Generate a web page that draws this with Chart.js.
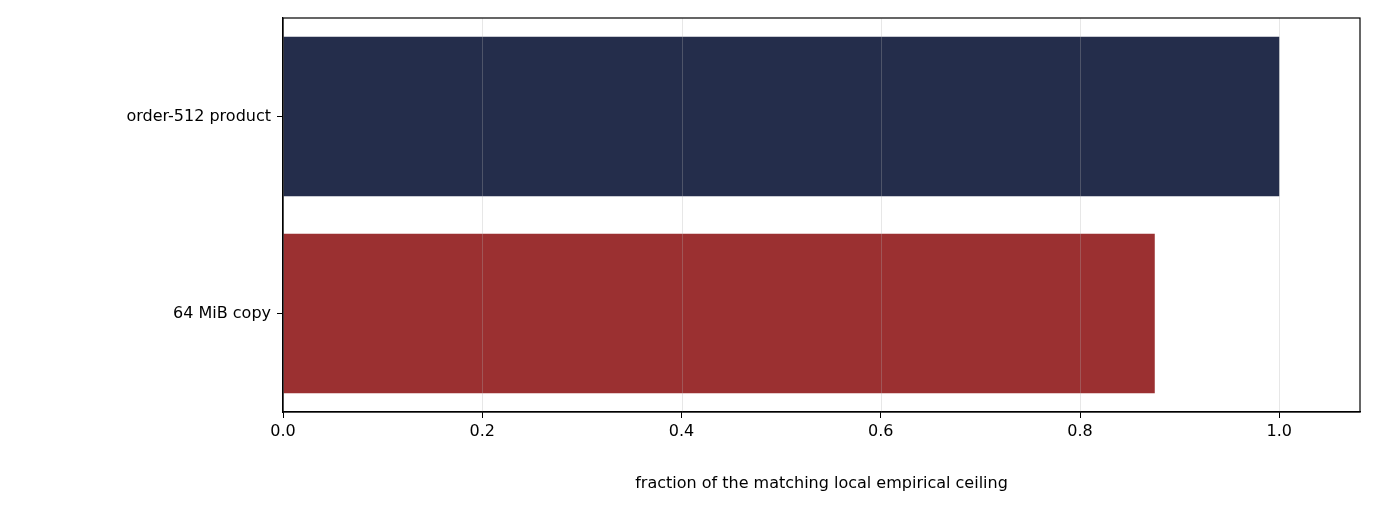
<!DOCTYPE html>
<html><head><meta charset="utf-8">
<script src="https://cdn.jsdelivr.net/npm/chart.js@4"></script>
<style>html,body{margin:0;padding:0;background:#fff}#c{width:1379px;height:517px}</style>
</head><body><div id="c"><canvas id="cv"></canvas></div>
<script>
const categories = ["order-512 product", "64 MiB copy"];
const values = [1.0, 0.875];
const colors = ["#242d4b", "#9b3031"];
const xTicks = [0, 0.2, 0.4, 0.6, 0.8, 1.0];
const xLabel = "fraction of the matching local empirical ceiling";

const frame = {id:'frame',
  afterDatasetsDraw(c){const a=c.chartArea,x=c.ctx,s=c.scales.x;x.save();x.strokeStyle='rgba(176,176,176,0.3)';x.lineWidth=1;
    xTicks.forEach(v=>{const p=Math.round(s.getPixelForValue(v))+0.5;x.beginPath();x.moveTo(p,a.top);x.lineTo(p,a.bottom);x.stroke();});x.restore();},
  afterDraw(c){const a=c.chartArea,x=c.ctx;x.save();x.strokeStyle='#000';x.lineWidth=1.2;x.strokeRect(a.left,a.top,a.right-a.left,a.bottom-a.top);x.restore();}};
new Chart(document.getElementById('cv'), {
  type:'bar',
  data:{labels:categories, datasets:[{data:values, backgroundColor:colors, barPercentage:0.81, categoryPercentage:1}]},
  options:{
    indexAxis:'y', responsive:true, maintainAspectRatio:false, animation:false,
    layout:{padding:{top:18,right:19,left:0,bottom:0}},
    plugins:{legend:{display:false}, tooltip:{enabled:false}},
    scales:{
      x:{min:0,max:1.081,
        afterBuildTicks(s){s.ticks=xTicks.map(v=>({value:v}));},
        afterFit(s){s.height=105;},
        ticks:{color:'#000',font:{family:'DejaVu Sans',size:16},padding:4,callback:v=>v.toFixed(1)},
        grid:{drawOnChartArea:false,tickColor:'#000',tickLength:6,drawTicks:true},
        border:{color:'#000',width:1.2},
        title:{display:true,text:xLabel,color:'#000',font:{family:'DejaVu Sans',size:16},padding:{top:6,bottom:24}}
      },
      y:{
        afterFit(s){s.width=283;},
        ticks:{color:'#000',font:{family:'DejaVu Sans',size:16},padding:6},
        grid:{offset:false,drawOnChartArea:false,tickColor:'#000',tickLength:6},
        border:{color:'#000',width:1.2}
      }
    }
  },
  plugins:[frame]
});
</script></body></html>
